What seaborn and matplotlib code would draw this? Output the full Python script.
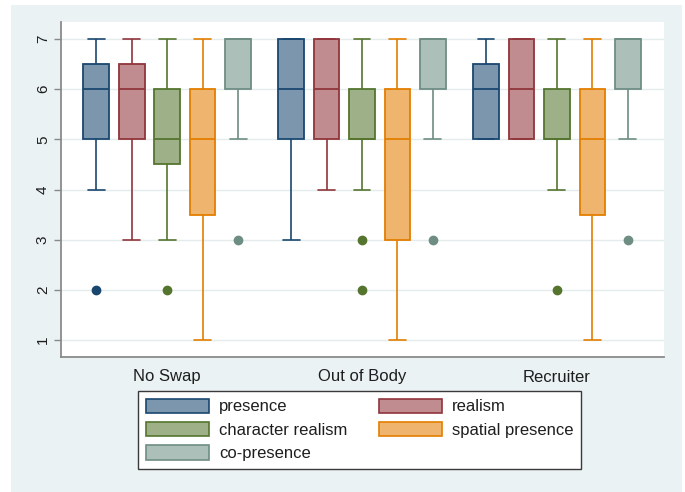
import numpy as np
import pandas as pd
import seaborn as sns
import matplotlib.pyplot as plt
import matplotlib.colors as mcolors
from matplotlib.patches import Rectangle, Patch

# ---- data -------------------------------------------------------------
conditions = ["No Swap", "Out of Body", "Recruiter"]
measures = ["presence", "realism", "character realism", "spatial presence", "co-presence"]

# questionnaire scores (1-7 scale) per condition
presence_noswap = [2, 4, 5, 5, 6, 6, 6.5, 7, 7]
presence_outofbody = [3, 4, 5, 5, 6, 6, 7, 7, 7]
presence_recruiter = [5, 5, 5, 5, 6, 6, 6.5, 7, 7]

realism_noswap = [3, 5, 5, 5, 6, 6, 6.5, 7, 7]
realism_outofbody = [4, 5, 5, 5, 6, 7, 7, 7, 7]
realism_recruiter = [5, 5, 5, 6, 6, 7, 7, 7, 7]

charrealism_noswap = [2, 3, 4.5, 5, 5, 5.5, 6, 7, 7]
charrealism_outofbody = [2, 3, 4, 5, 5, 5, 5, 6, 6, 6, 6, 7, 7]
charrealism_recruiter = [2, 4, 5, 5, 5, 6, 6, 7, 7]

spatial_noswap = [1, 2, 3.5, 4, 5, 5, 6, 7, 7]
spatial_outofbody = [1, 2, 3, 4, 5, 5, 6, 7, 7]
spatial_recruiter = [1, 2, 3.5, 4, 5, 5, 6, 7, 7]

copresence_noswap = [3, 5, 6, 6, 7, 7, 7, 7, 7]
copresence_outofbody = [3, 5, 6, 6, 7, 7, 7, 7, 7]
copresence_recruiter = [3, 5, 6, 6, 7, 7, 7, 7, 7]

y_ticks = [1, 2, 3, 4, 5, 6, 7]

# ---- long-format table -------------------------------------------------
groups = {
    ("presence", "No Swap"): presence_noswap,
    ("presence", "Out of Body"): presence_outofbody,
    ("presence", "Recruiter"): presence_recruiter,
    ("realism", "No Swap"): realism_noswap,
    ("realism", "Out of Body"): realism_outofbody,
    ("realism", "Recruiter"): realism_recruiter,
    ("character realism", "No Swap"): charrealism_noswap,
    ("character realism", "Out of Body"): charrealism_outofbody,
    ("character realism", "Recruiter"): charrealism_recruiter,
    ("spatial presence", "No Swap"): spatial_noswap,
    ("spatial presence", "Out of Body"): spatial_outofbody,
    ("spatial presence", "Recruiter"): spatial_recruiter,
    ("co-presence", "No Swap"): copresence_noswap,
    ("co-presence", "Out of Body"): copresence_outofbody,
    ("co-presence", "Recruiter"): copresence_recruiter,
}
rows = []
for (m, c), vals in groups.items():
    for v in vals:
        rows.append({"measure": m, "condition": c, "score": v})
df = pd.DataFrame(rows)

# ---- style ------------------------------------------------------------
sns.set_style("white")
plt.rcParams["font.family"] = ["Liberation Sans", "DejaVu Sans"]

BG = "#EAF2F3"
TEXT = "#1e1e1e"
edge_colors = {
    "presence": "#1A476F",
    "realism": "#90353B",
    "character realism": "#55752F",
    "spatial presence": "#E37E00",
    "co-presence": "#6E8E84",
}


def lighten(c, keep=0.57):
    rgb = np.array(mcolors.to_rgb(c))
    return tuple(rgb * keep + (1 - keep))


fill_colors = {m: lighten(c) for m, c in edge_colors.items()}

fig = plt.figure(figsize=(6.85, 4.92), dpi=100, facecolor="white")
fig.patches.append(Rectangle((11 / 685, 0), 671 / 685, 487 / 492,
                             transform=fig.transFigure, facecolor=BG,
                             edgecolor="none", zorder=-10))
ax = fig.add_axes([61 / 685, 1 - 357 / 492, 603 / 685, 335 / 492])
ax.set_facecolor("white")

sns.boxplot(data=df, x="condition", y="score", hue="measure",
            order=conditions, hue_order=measures,
            palette=fill_colors, width=0.91, gap=0.27,
            linewidth=1.2, fliersize=6, whis=1.5, capwidths=0.087,
            legend=False, ax=ax)

# colour each measure's lines in its own hue
for cont, m in zip(ax.containers, measures):
    ec = edge_colors[m]
    for b in cont.boxes:
        b.set_facecolor(fill_colors[m])
        b.set_edgecolor(ec)
        b.set_linewidth(1.3)
    for ln in list(cont.medians):
        ln.set_color(ec)
        ln.set_linewidth(1.3)
    for ln in list(cont.whiskers) + list(cont.caps):
        ln.set_color(ec)
        ln.set_linewidth(1.2)
    for ln in cont.fliers:
        ln.set_marker("o")
        ln.set_markerfacecolor(ec)
        ln.set_markeredgecolor(ec)
        ln.set_markersize(6)

ax.set_xlim(-0.544, 2.549)
ax.set_ylim(0.66, 7.34)
ax.set_yticks(y_ticks)
ax.set_yticklabels([str(t) for t in y_ticks], rotation=90, va="center")
ax.set_xlabel("")
ax.set_ylabel("")
ax.set_axisbelow(True)
ax.yaxis.grid(True, color="#E4ECEE", linewidth=1.0)
ax.xaxis.grid(False)

for s in ("top", "right"):
    ax.spines[s].set_visible(False)
for s in ("left", "bottom"):
    ax.spines[s].set_color("#8a8a8a")
    ax.spines[s].set_linewidth(1.3)

ax.tick_params(axis="y", length=5, width=1.0, color="#8a8a8a",
               labelsize=11, labelcolor=TEXT, pad=3, left=True)
ax.tick_params(axis="x", length=0, labelsize=12, labelcolor=TEXT, pad=9)

# legend: two columns, filled row by row
leg_order = ["presence", "character realism", "co-presence",
             "realism", "spatial presence"]
handles = [Patch(facecolor=fill_colors[m], edgecolor=edge_colors[m],
                 linewidth=1.2, label=m) for m in leg_order]
leg = fig.legend(handles=handles, loc="upper left",
                 bbox_to_anchor=(138 / 685, 1 - 391 / 492),
                 bbox_transform=fig.transFigure, ncol=2, fontsize=12,
                 frameon=True, fancybox=False, shadow=False, framealpha=1,
                 handlelength=3.8, handleheight=0.96, handletextpad=0.6,
                 labelspacing=0.44, columnspacing=1.9, borderpad=0.45,
                 borderaxespad=0)
leg.get_frame().set_edgecolor("#3a3a3a")
leg.get_frame().set_linewidth(1.0)
for t in leg.get_texts():
    t.set_color(TEXT)

fig.savefig("out.png", dpi=100, facecolor=fig.get_facecolor())
